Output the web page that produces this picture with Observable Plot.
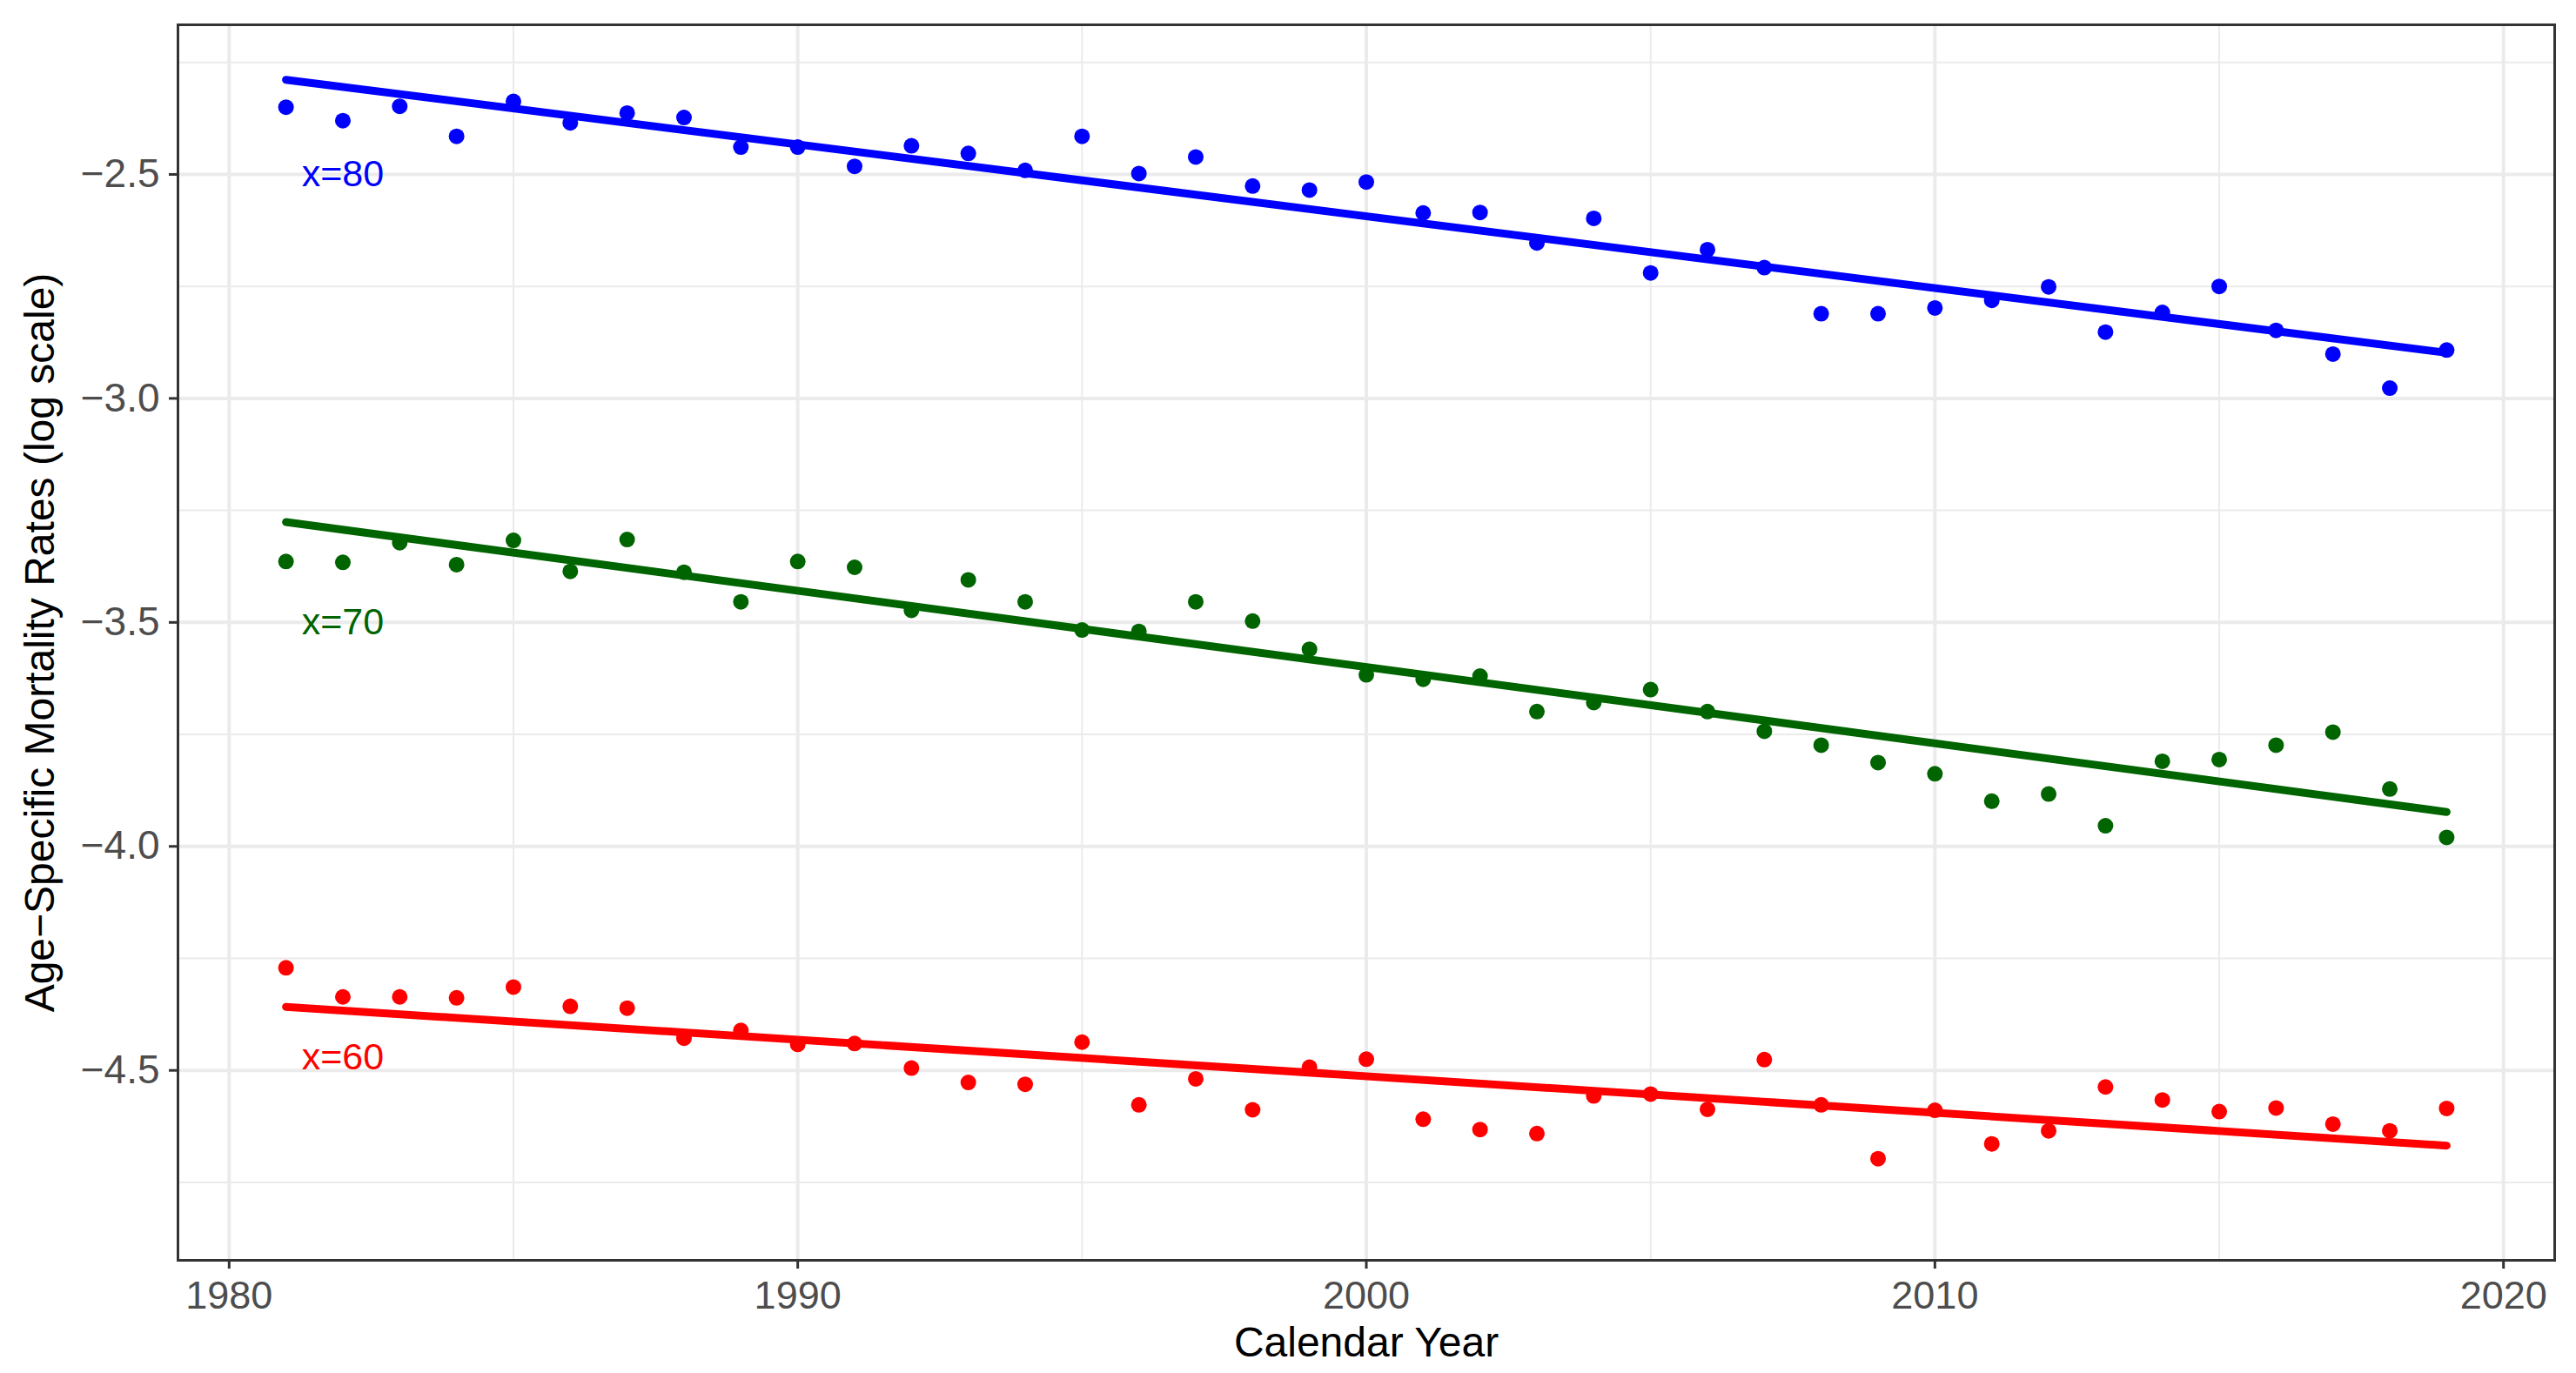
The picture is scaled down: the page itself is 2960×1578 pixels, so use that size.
<!DOCTYPE html>
<html><head><meta charset="utf-8">
<script src="https://cdn.jsdelivr.net/npm/d3@7"></script>
<script src="https://cdn.jsdelivr.net/npm/@observablehq/plot@0.6"></script>
<style>html,body{margin:0;padding:0;background:#fff;}</style>
</head><body><div id="chart"></div>
<script>
const years = [1981,1982,1983,1984,1985,1986,1987,1988,1989,1990,
  1991,1992,1993,1994,1995,1996,1997,1998,1999,2000,
  2001,2002,2003,2004,2005,2006,2007,2008,2009,2010,
  2011,2012,2013,2014,2015,2016,2017,2018,2019];
const mx80 = [-2.350,-2.380,-2.348,-2.415,-2.337,-2.385,-2.363,-2.373,-2.439,-2.439,
  -2.482,-2.436,-2.453,-2.491,-2.415,-2.498,-2.461,-2.526,-2.535,-2.517,
  -2.586,-2.585,-2.653,-2.598,-2.720,-2.668,-2.708,-2.811,-2.811,-2.798,
  -2.781,-2.751,-2.852,-2.808,-2.750,-2.848,-2.901,-2.977,-2.892];
const mx70 = [-3.364,-3.366,-3.322,-3.371,-3.317,-3.386,-3.315,-3.388,-3.454,-3.364,
  -3.377,-3.473,-3.405,-3.454,-3.517,-3.520,-3.454,-3.497,-3.560,-3.617,
  -3.627,-3.620,-3.699,-3.679,-3.650,-3.699,-3.743,-3.774,-3.813,-3.838,
  -3.899,-3.883,-3.954,-3.810,-3.806,-3.774,-3.745,-3.872,-3.980];
const mx60 = [-4.271,-4.336,-4.336,-4.338,-4.314,-4.357,-4.361,-4.428,-4.411,-4.442,
  -4.440,-4.495,-4.527,-4.531,-4.437,-4.577,-4.519,-4.588,-4.493,-4.475,
  -4.609,-4.632,-4.641,-4.557,-4.553,-4.587,-4.476,-4.577,-4.697,-4.589,
  -4.664,-4.635,-4.537,-4.566,-4.592,-4.584,-4.620,-4.635,-4.585];
const seriesNames = ["x=80","x=70","x=60"];
const seriesColors = ["#0000FF","#006400","#FF0000"];
const labelYears = [1982,1982,1982];
const labelValues = [-2.5,-3.5,-4.47];
const xTicks = [1980,1990,2000,2010,2020];
const xMinorTicks = [1985,1995,2005,2015];
const yTicks = [-4.5,-4.0,-3.5,-3.0,-2.5];
const yMinorTicks = [-4.75,-4.25,-3.75,-3.25,-2.75,-2.25];
const xDomain = [1979.1, 2020.9];
const yDomain = [-4.924, -2.166];

const seriesValues = [mx80, mx70, mx60];
const data = seriesNames.flatMap((name, i) =>
  years.map((yr, j) => ({series: name, year: yr, value: seriesValues[i][j]})));
const labels = seriesNames.map((name, i) => ({series: name, year: labelYears[i], value: labelValues[i]}));

const fmtY = d => d.toFixed(1).replace("-", "\u2212");

const chart = Plot.plot({
  width: 2960,
  height: 1578,
  marginLeft: 204,
  marginRight: 25,
  marginTop: 28,
  marginBottom: 130,
  style: {fontFamily: "'Liberation Sans', Arial, sans-serif", background: "#fff"},
  x: {domain: xDomain},
  y: {domain: yDomain},
  color: {domain: seriesNames, range: seriesColors},
  marks: [
    Plot.gridX(xMinorTicks, {stroke: "#EBEBEB", strokeOpacity: 1, strokeWidth: 2}),
    Plot.gridY(yMinorTicks, {stroke: "#EBEBEB", strokeOpacity: 1, strokeWidth: 2}),
    Plot.gridX(xTicks, {stroke: "#EBEBEB", strokeOpacity: 1, strokeWidth: 4}),
    Plot.gridY(yTicks, {stroke: "#EBEBEB", strokeOpacity: 1, strokeWidth: 4}),
    Plot.dot(data, {x: "year", y: "value", fill: "series", r: 9, stroke: "none"}),
    Plot.linearRegressionY(data, {x: "year", y: "value", stroke: "series", ci: 0, strokeWidth: 9}),
    Plot.text(labels, {x: "year", y: "value", text: "series", fill: "series", fontSize: 43}),
    Plot.frame({stroke: "#333333", strokeWidth: 3}),
    Plot.axisX(xTicks, {tickSize: 10, tickPadding: 14, fontSize: 45, stroke: "#333333", strokeWidth: 3, fill: "#4D4D4D", tickFormat: d => String(d), label: null}),
    Plot.axisY(yTicks, {tickSize: 10, tickPadding: 11, fontSize: 46, stroke: "#333333", strokeWidth: 3, fill: "#4D4D4D", tickFormat: fmtY, label: null}),
    Plot.text(["Calendar Year"], {frameAnchor: "bottom", textAnchor: "middle", dy: 110, fontSize: 48, fill: "#000"}),
    Plot.text(["Age\u2212Specific Mortality Rates (log scale)"], {frameAnchor: "left", textAnchor: "middle", dx: -158, rotate: -90, fontSize: 48, fill: "#000"})
  ]
});
document.getElementById("chart").appendChild(chart);
</script>
</body></html>
